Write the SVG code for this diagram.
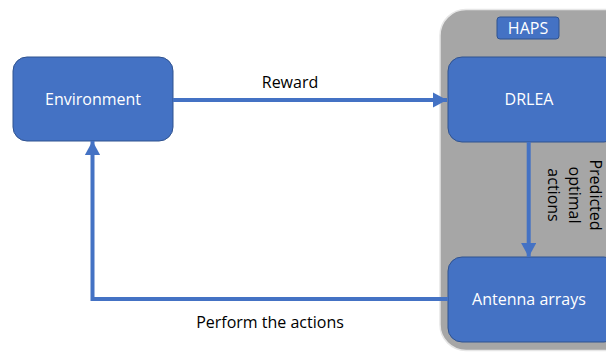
<svg xmlns="http://www.w3.org/2000/svg" width="606" height="354" viewBox="0 0 606 354">
<style>
.box{fill:#4472c4;stroke:#2f528f;stroke-width:1}
.wt{fill:#ffffff;font-family:"Open Sans","Liberation Sans",sans-serif;font-size:16px;text-anchor:middle}
.bt{fill:#000000;font-family:"Open Sans","Liberation Sans",sans-serif;font-size:16px;text-anchor:middle}
.conn{fill:none;stroke:#4472c4;stroke-width:4}
</style>
<defs>
<marker id="ah" markerWidth="3.5" markerHeight="3.8" refX="3.5" refY="1.9" orient="auto" markerUnits="strokeWidth">
<path d="M0,0 L3.5,1.9 L0,3.8 z" fill="#4472c4"/>
</marker>
</defs>
<rect width="606" height="354" fill="#ffffff"/>
<g id="haps">
<rect x="440" y="9.5" width="200" height="341" rx="26" fill="#a6a6a6" stroke="#e6e6e6" stroke-width="1.5"/>
<rect class="box" x="497" y="17" width="62" height="22" rx="3"/>
<text class="wt" x="528" y="34">HAPS</text>
</g>
<g id="environment">
<rect class="box" x="13" y="57" width="160" height="84" rx="14"/>
<text class="wt" x="93" y="105">Environment</text>
</g>
<g id="drlea">
<rect class="box" x="448" y="57" width="170" height="85" rx="14"/>
<text class="wt" x="529" y="105">DRLEA</text>
</g>
<g id="antenna">
<rect class="box" x="448" y="257" width="170" height="85" rx="14"/>
<text class="wt" x="529" y="305">Antenna arrays</text>
</g>
<g id="connectors">
<path class="conn" d="M173,100 L447,100" marker-end="url(#ah)"/>
<path class="conn" d="M528.7,142 L528.7,257" marker-end="url(#ah)"/>
<path class="conn" d="M448,299 L92.5,299 L92.5,141" marker-end="url(#ah)"/>
</g>
<g id="labels">
<text class="bt" x="290" y="88">Reward</text>
<text class="bt" x="270" y="328">Perform the actions</text>
<g transform="translate(573,195) rotate(90)">
<text class="bt" x="0" y="-17">Predicted</text>
<text class="bt" x="0" y="4">optimal</text>
<text class="bt" x="0" y="25">actions</text>
</g>
</g>
</svg>
